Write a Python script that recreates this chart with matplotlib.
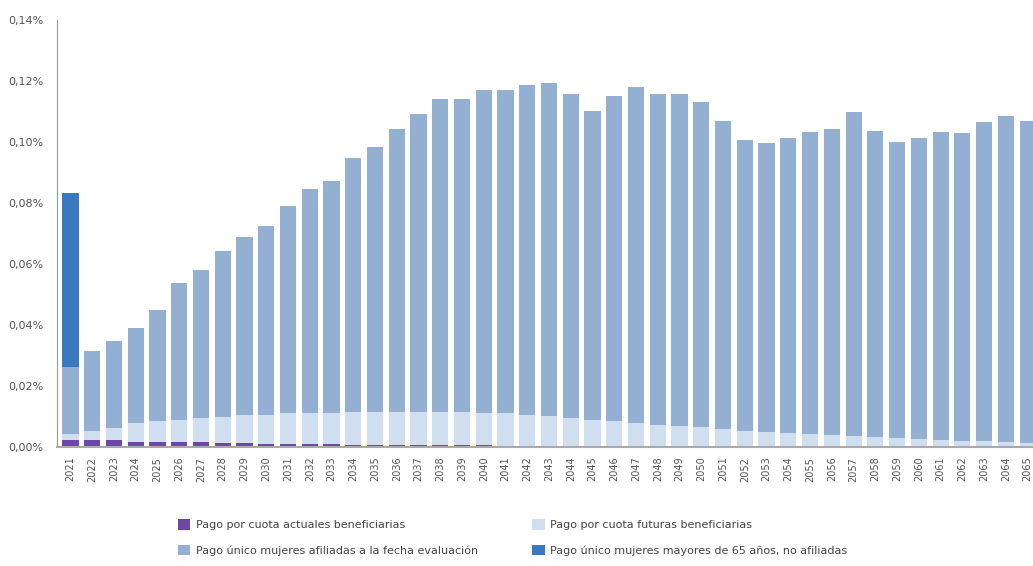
import numpy as np
import matplotlib
matplotlib.use('Agg')
import matplotlib.pyplot as plt
from matplotlib.ticker import FuncFormatter

# values in percent
years = list(range(2021, 2066))
actuales = [0.0023, 0.0023, 0.0023, 0.0017, 0.0017, 0.0015, 0.0015, 0.0014, 0.0012, 0.0011,
	0.0011, 0.0010, 0.0009, 0.0008, 0.0008, 0.0007, 0.0007, 0.0006, 0.0005, 0.0005,
	0.0004, 0.0004, 0.0003, 0.0003, 0.0003, 0.0002, 0.0002, 0.0002, 0.0001, 0.0,
	0.0, 0.0, 0.0, 0.0, 0.0, 0.0, 0.0, 0.0, 0.0, 0.0,
	0.0, 0.0, 0.0, 0.0, 0.0]
futuras = [0.0019, 0.0029, 0.0038, 0.0061, 0.0069, 0.0074, 0.0079, 0.0085, 0.0093, 0.0094,
	0.0099, 0.0102, 0.0103, 0.0108, 0.0108, 0.0109, 0.0109, 0.0110, 0.0111, 0.0107,
	0.0106, 0.0101, 0.0100, 0.0091, 0.0087, 0.0084, 0.0076, 0.0070, 0.0068, 0.0067,
	0.0058, 0.0053, 0.0050, 0.0047, 0.0043, 0.0039, 0.0036, 0.0032, 0.0028, 0.0025,
	0.0023, 0.0021, 0.0020, 0.0016, 0.0014]
afiliadas = [0.0221, 0.0264, 0.0288, 0.0311, 0.0363, 0.0450, 0.0486, 0.0545, 0.0583, 0.0621,
	0.0681, 0.0734, 0.0760, 0.0831, 0.0867, 0.0927, 0.0976, 0.1025, 0.1025, 0.1058,
	0.1060, 0.1082, 0.1089, 0.1065, 0.1012, 0.1066, 0.1103, 0.1087, 0.1087, 0.1065,
	0.1011, 0.0954, 0.0946, 0.0965, 0.0991, 0.1003, 0.1061, 0.1005, 0.0973, 0.0989,
	0.1011, 0.1010, 0.1045, 0.1069, 0.1055]
mayores = [0.0569] + [0.0] * 44

labels = ['Pago por cuota actuales beneficiarias',
	'Pago por cuota futuras beneficiarias',
	'Pago único mujeres afiliadas a la fecha evaluación',
	'Pago único mujeres mayores de 65 años, no afiliadas']
colors = ['#6E46A8', '#CFDFF0', '#93B0D3', '#3A78BF']

fig = plt.figure(figsize=(10.33, 5.66), dpi=100)
ax = fig.add_axes([57 / 1033, 1 - 447 / 566, 1 - 57 / 1033, (447 - 20) / 566])

x = np.arange(len(years))
w = 0.74
bottom = np.zeros(len(years))
bars = []
for vals, c, lab in zip([actuales, futuras, afiliadas, mayores], colors, labels):
	vals = np.array(vals)
	b = ax.bar(x, vals, w, bottom=bottom, color=c, label=lab, linewidth=0)
	bars.append(b)
	bottom += vals

ax.set_xlim(-0.62, 44.25)
ax.set_ylim(0, 0.14)
ax.set_yticks(np.arange(0, 0.141, 0.02))
ax.yaxis.set_major_formatter(FuncFormatter(lambda v, p: ('%.2f%%' % v).replace('.', ',')))
ax.set_xticks(x)
ax.set_xticklabels([str(y) for y in years], rotation=90, fontsize=7, color='#555555')
ax.tick_params(axis='y', length=0, pad=10, labelsize=8, labelcolor='#555555')
ax.tick_params(axis='x', length=0, pad=7)

for s in ['top', 'right']:
	ax.spines[s].set_visible(False)
ax.spines['left'].set_color('#999999')
ax.spines['bottom'].set_color('#aaaaaa')
ax.spines['bottom'].set_linewidth(1.5)

# legend: two columns, two rows
handles = [bars[0], bars[2], bars[1], bars[3]]
leg = fig.legend(handles, [labels[0], labels[2], labels[1], labels[3]],
	ncol=2, loc='upper left', bbox_to_anchor=(168 / 1033, 1 - 509 / 566),
	frameon=False, fontsize=8, handlelength=1.1, handleheight=1.1,
	columnspacing=4.9, labelspacing=1.3, handletextpad=0.5, labelcolor='#444444')

fig.savefig('out.png', dpi=100)
